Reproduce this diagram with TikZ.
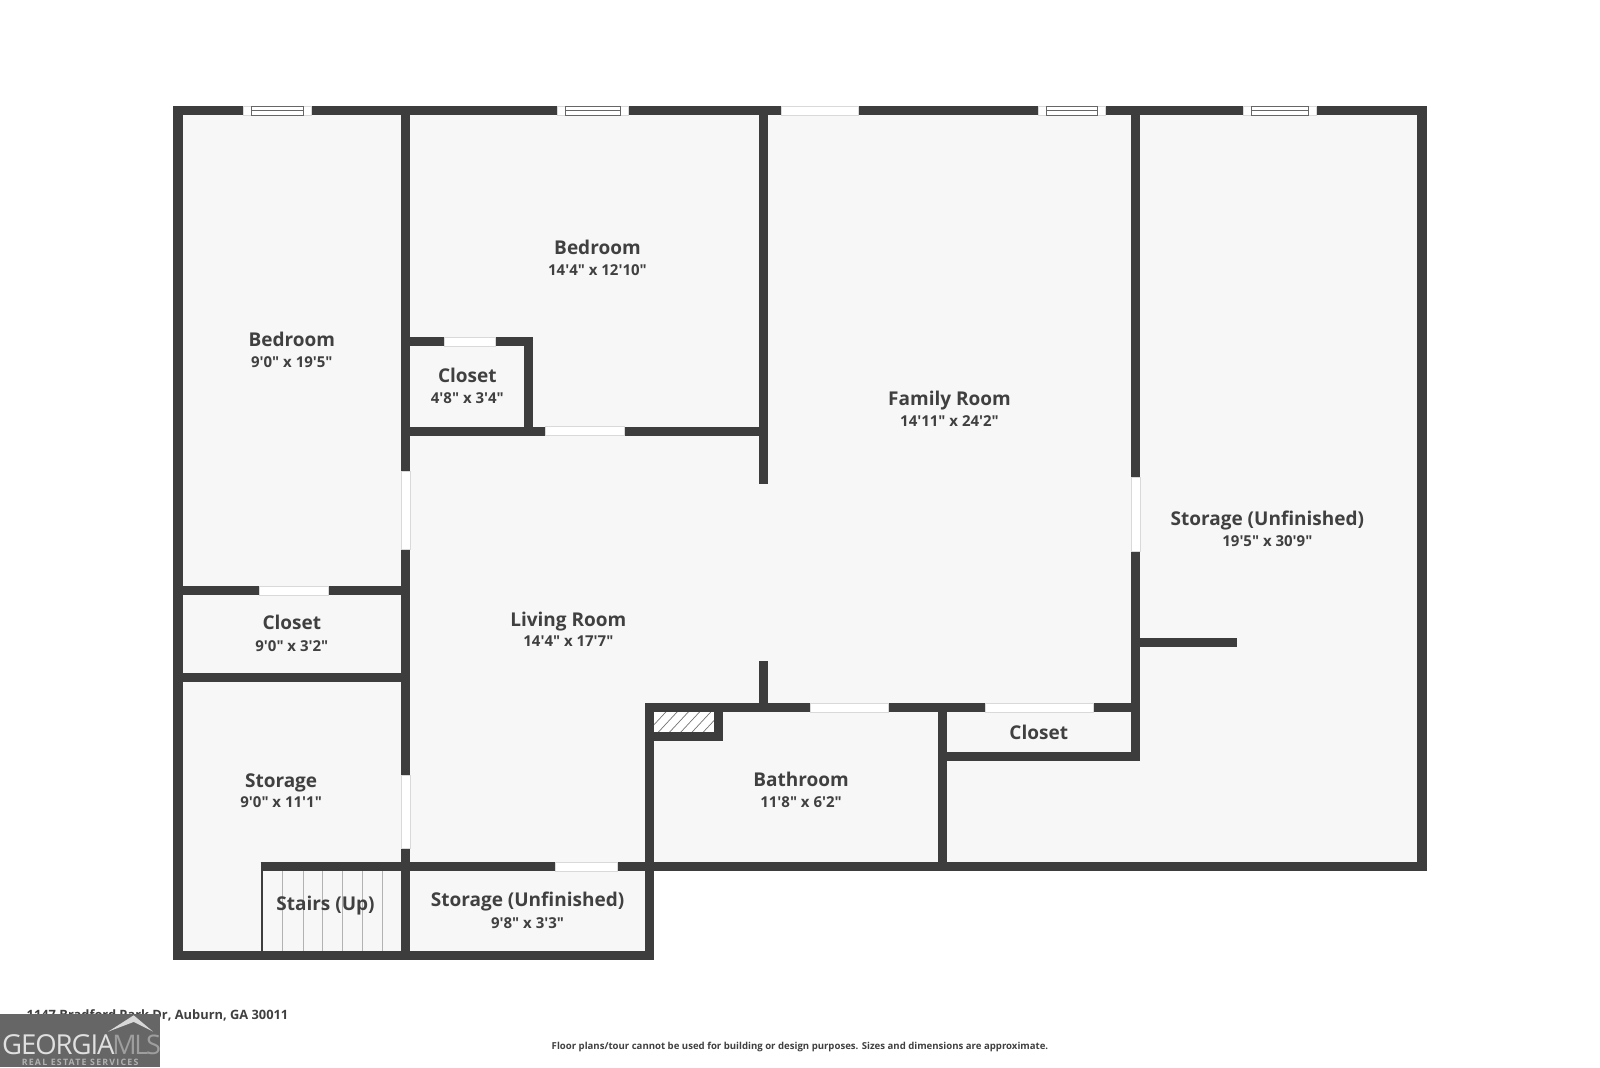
\documentclass[tikz,border=0pt]{standalone}
\usepackage{fontspec}
\setmainfont{Open Sans}
\newfontfamily\ofont{Open Sans}
\usetikzlibrary{patterns}
\definecolor{wallc}{HTML}{3D3D3D}
\definecolor{roomc}{HTML}{F7F7F7}
\definecolor{textc}{HTML}{404040}
\definecolor{logoc}{HTML}{666666}
\tikzset{
 x=1.0204pt,y=-1.0204pt,
 wall/.style={draw=wallc,line width=9.2pt,line cap=butt,line join=miter},
 thinwall/.style={draw=wallc,line width=2.4pt},
 tread/.style={draw=black!30,line width=1pt},
 gapfill/.style={draw=black!15,line width=0.5pt},
 roomname/.style={font=\ofont\fontsize{19}{24}\selectfont\bfseries,text=textc,inner sep=0pt,anchor=base},
 roomsize/.style={font=\ofont\fontsize{15}{18}\selectfont\bfseries,text=textc,inner sep=0pt,anchor=base},
 foot/.style={font=\ofont\fontsize{12.85}{15}\selectfont\bfseries,text=textc,inner sep=0pt},
}
\newcommand{\hgap}[3]{\fill[white] (#1,#3-4.6) rectangle (#2,#3+4.6); \draw[gapfill] (#1,#3-4.4) rectangle (#2,#3+4.4);}
\newcommand{\vgap}[3]{\fill[white] (#2-4.6,#1) rectangle (#2+4.6,#3); \draw[gapfill] (#2-4.4,#1) rectangle (#2+4.4,#3);}
\newcommand{\hwin}[3]{\hgap{#1}{#2}{#3}
 \draw[black!60,line width=0.8pt] (#1+8,#3-4.2) rectangle (#2-8,#3+4.2);
 \draw[black!60,line width=0.9pt] (#1+8,#3-0.6) -- (#2-8,#3-0.6);}
\begin{document}
\begin{tikzpicture}
\useasboundingbox (0,0) rectangle (1568,1046);
\fill[white] (0,0) rectangle (1568,1046);
% floor
\fill[roomc] (174.5,108.5) -- (1393.5,108.5) -- (1393.5,849.5) -- (636.5,849.5) -- (636.5,936.5) -- (174.5,936.5) -- cycle;
\fill[roomc] (636.5,693.5) rectangle (923.5,849.5);
% stair treads
\foreach \x in {277,297,316,336,355,375} \draw[tread] (\x,853) -- (\x,933);
% chimney hatch
\begin{scope}
\clip (640,698) rectangle (701,718);
\fill[white] (640,698) rectangle (701,718);
\foreach \i in {0,...,8} \draw[black!55,line width=0.7pt] (630+\i*11,722) -- (630+\i*11+26,694);
\end{scope}
% walls
\draw[wall] (174.5,108.5) -- (1393.5,108.5) -- (1393.5,849.5) -- (636.5,849.5) -- (636.5,936.5) -- (174.5,936.5) -- cycle;
\draw[wall] (397.5,108.5) -- (397.5,936.5);
\draw[wall] (748.5,108.5) -- (748.5,474);
\draw[wall] (1113,108.5) -- (1113,741.5) -- (923.5,741.5);
\draw[wall] (397.5,422.5) -- (748.5,422.5);
\draw[wall] (397.5,335) -- (518,335) -- (518,422.5);
\draw[wall] (174.5,579) -- (397.5,579);
\draw[wall] (174.5,664) -- (397.5,664);
\draw[wall] (255.5,849.5) -- (636.5,849.5);
\draw[thinwall] (257,849.5) -- (257,936.5);
\draw[wall] (748.5,648) -- (748.5,693.5);
\draw[wall] (636.5,849.5) -- (636.5,693.5) -- (1117.5,693.5);
\draw[wall] (704.5,693.5) -- (704.5,722) -- (636.5,722);
\draw[wall] (923.5,693.5) -- (923.5,849.5);
\draw[wall] (1113,629.5) -- (1212,629.5);
% openings
\hwin{238}{305}{108.5}
\hwin{546}{616}{108.5}
\hgap{766}{841}{108.5}
\hwin{1017}{1083}{108.5}
\hwin{1218}{1290}{108.5}
\hgap{435}{485}{335}
\hgap{534}{612}{422.5}
\hgap{254}{322}{579}
\hgap{544}{605}{849.5}
\hgap{794}{870}{693.5}
\hgap{966}{1071}{693.5}
\vgap{462}{397.5}{538}
\vgap{760}{397.5}{831}
\vgap{468}{1113}{540}
% labels
\node[roomname] (n1) at (286,340) {Bedroom};
\node[roomsize] (s1) at (286,360.3) {9'0" x 19'5"};
\node[roomname] (n2) at (585.5,249) {Bedroom};
\node[roomsize] (s2) at (585.5,270) {14'4" x 12'10"};
\node[roomname] (n3) at (458,375) {Closet};
\node[roomsize] (s3) at (458,395) {4'8" x 3'4"};
\node[roomname] (n4) at (930.5,397) {Family Room};
\node[roomsize] (s4) at (930.5,417.7) {14'11" x 24'2"};
\node[roomname] (n5) at (1242,515) {Storage (Unfinished)};
\node[roomsize] (s5) at (1242,535.5) {19'5" x 30'9"};
\node[roomname] (n6) at (286,617) {Closet};
\node[roomsize] (s6) at (286,638) {9'0" x 3'2"};
\node[roomname] (n7) at (557,613.7) {Living Room};
\node[roomsize] (s7) at (557,634) {14'4" x 17'7"};
\node[roomname] (n8) at (1018,725) {Closet};
\node[roomname] (n9) at (785,770.3) {Bathroom};
\node[roomsize] (s9) at (785,791) {11'8" x 6'2"};
\node[roomname] (n10) at (275.5,771.3) {Storage};
\node[roomsize] (s10) at (275.5,791.5) {9'0" x 11'1"};
\node[roomname] (n11) at (319,892.5) {Stairs (Up)};
\node[roomname] (n12) at (517,888.3) {Storage (Unfinished)};
\node[roomsize] (s12) at (517,909.7) {9'8" x 3'3"};
% footer
\node[foot,anchor=base west] (addr) at (26,999.2) {1147 Bradford Park Dr, Auburn, GA 30011};
\node[font=\ofont\fontsize{9.6}{12}\selectfont\bfseries,text=textc,inner sep=0pt] (disc) at (784,1026.5) {Floor plans/tour cannot be used for building or design purposes. Sizes and dimensions are approximate.};
% logo
\fill[logoc] (0,994) rectangle (157,1046);
\node[font=\ofont\fontsize{27.5}{30}\selectfont\addfontfeatures{LetterSpace=-4},text=white!88!black,inner sep=0pt,anchor=base west] (lg1) at (2,1033.5) {GEORGIA};
\node[font=\ofont\fontsize{27}{30}\selectfont\addfontfeatures{LetterSpace=-9},text=white!62!black,inner sep=0pt,anchor=base west] (lg2) at (110,1033.5) {MLS};
\node[font=\ofont\fontsize{8.8}{11}\selectfont\bfseries\addfontfeatures{LetterSpace=14},text=white!70!black,inner sep=0pt] (lg3) at (78.5,1040.7) {REAL ESTATE SERVICES};
\fill[white!85!black] (106,1011) -- (131,995) -- (150,1011) -- (131,1001.5) -- cycle;
\end{tikzpicture}
\end{document}
